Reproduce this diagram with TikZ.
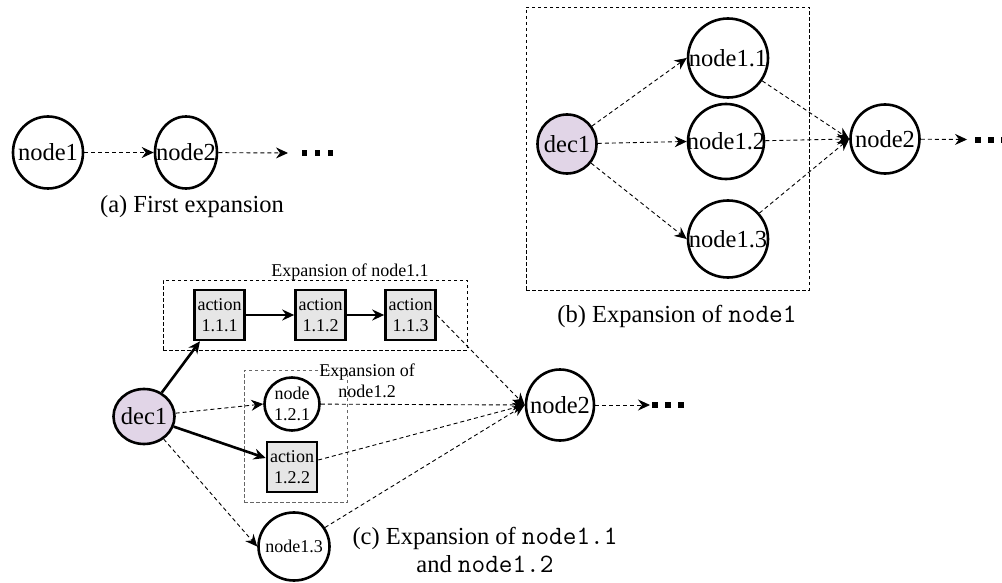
\documentclass[tikz,border=0pt]{standalone}
\usepackage{fontspec}
\setmainfont{Liberation Serif}
\usetikzlibrary{arrows.meta,shapes.geometric}

\definecolor{decfill}{HTML}{E1D5E7}
\definecolor{actfill}{HTML}{E6E6E6}
\definecolor{framegray}{HTML}{666666}

% typewriter names inside the captions
\newcommand{\codename}[1]{{\fontsize{26.5}{28}\selectfont\ttfamily #1}}

\tikzset{
  big/.style={font=\fontsize{24.5}{28}\selectfont},
  small/.style={font=\fontsize{18}{21}\selectfont},
  state/.style={ellipse, draw, line width=2.6pt, fill=white, inner sep=-20pt, align=center},
  decision/.style={state, fill=decfill},
  act/.style={rectangle, draw, line width=2.6pt, fill=actfill, minimum width=50pt,
    minimum height=50pt, inner sep=0pt, align=center, small},
  flow/.style={dash pattern=on 4pt off 3pt, line width=0.9pt,
    -{Stealth[length=12pt,width=11pt,inset=4pt]}},
  strong/.style={line width=2.6pt, -{Stealth[length=12pt,width=11pt,inset=4pt]}},
  group/.style={draw, dash pattern=on 3.5pt off 2.5pt, line width=0.9pt},
  dot/.style={rectangle, fill=black, minimum size=5.5pt, inner sep=0pt},
  caption/.style={big, align=center},
}

\begin{document}
\begin{tikzpicture}[x=1pt, y=-1pt]
\useasboundingbox (0,0) rectangle (1002,583);

% ---------- (a) first expansion ----------
\node[state, big, minimum width=70pt, minimum height=72pt] (a1) at (48,152.5) {node1};
\node[state, big, minimum width=62pt, minimum height=72pt] (a2) at (186,152.5) {node2};
\coordinate (aend) at (288,153);
\node[dot] (ad1) at (304.5,153) {};
\node[dot] (ad2) at (317.5,153) {};
\node[dot] (ad3) at (330.5,153) {};
\draw[flow] (a1) -- (a2);
\draw[flow] (a2) -- (aend);
\node[caption] (capa) at (192,207) {(a) First expansion};

% ---------- (b) expansion of node1 ----------
\node[group, minimum width=283pt, minimum height=283pt, inner sep=0pt] (bframe) at (667.5,148.5) {};
\node[decision, big, minimum width=59pt, minimum height=59pt] (bdec) at (567,144) {dec1};
\node[state, big, minimum width=80pt, minimum height=79pt] (b11) at (728,58) {node1.1};
\node[state, big, minimum width=76pt, minimum height=75pt] (b12) at (726,141.5) {node1.2};
\node[state, big, minimum width=80pt, minimum height=77pt] (b13) at (728,239) {node1.3};
\node[state, big, minimum width=69pt, minimum height=69pt] (b2) at (885,139) {node2};
\coordinate (bend) at (967,139.5);
\node[dot] (bd1) at (978,140) {};
\node[dot] (bd2) at (991,140) {};
\node[dot] (bd3) at (1004,140) {};
\draw[flow] (bdec) -- (b11.west);
\draw[flow] (bdec) -- (b12.west);
\draw[flow] (bdec) -- (b13.west);
\draw[flow] (b11) -- (b2.west);
\draw[flow] (b12) -- (b2.west);
\draw[flow] (b13) -- (b2.west);
\draw[flow] (b2) -- (bend);
\node[caption] (capb) at (677,316) {(b) Expansion of \codename{node1}};

% ---------- (c) expansion of node1.1 and node1.2 ----------
\node[group, minimum width=304pt, minimum height=70pt, inner sep=0pt] (cframe1) at (315,315) {};
\node[small] (clab1) at (350,272) {Expansion of node1.1};
\node[group, draw=framegray, minimum width=103pt, minimum height=132pt, inner sep=0pt] (cframe2) at (295.5,436) {};

\node[act] (c111) at (219.5,315) {action\\1.1.1};
\node[act] (c112) at (320.5,315) {action\\1.1.2};
\node[act] (c113) at (410.5,315) {action\\1.1.3};
\node[decision, big, minimum width=61pt, minimum height=55pt] (cdec) at (144,416.5) {dec1};
\node[state, small, minimum width=55pt, minimum height=53pt] (c121) at (292,404) {node\\1.2.1};
\node[act] (c122) at (292,467) {action\\1.2.2};
\node[small, align=center] (clab2) at (367,381) {Expansion of\\node1.2};
\node[state, small, minimum width=71pt, minimum height=68pt] (c13) at (294,546.5) {node1.3};
\node[state, big, minimum width=68pt, minimum height=71pt] (c2) at (560,405) {node2};
\coordinate (cend) at (650,405);
\node[dot] (cd1) at (655,405) {};
\node[dot] (cd2) at (668,405) {};
\node[dot] (cd3) at (681,405) {};

\draw[strong] (cdec) -- (c111);
\draw[strong] (c111) -- (c112);
\draw[strong] (c112) -- (c113);
\draw[strong] (cdec) -- (c122);
\draw[flow] (cdec) -- (c121.west);
\draw[flow] (cdec) -- (c13.west);
\draw[flow] (c113.east) -- (c2.west);
\draw[flow] (c121) -- (c2.west);
\draw[flow] (c122) -- (c2.west);
\draw[flow] (c13) -- (c2.west);
\draw[flow] (c2) -- (cend);
\node[caption] (capc) at (485,550) {(c) Expansion of \codename{node1.1}\\and \codename{node1.2}};
\end{tikzpicture}
\end{document}
